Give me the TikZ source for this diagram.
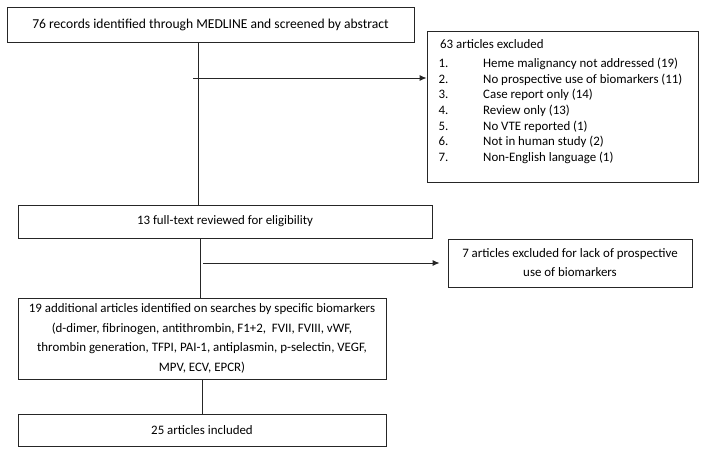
\documentclass[tikz,border=0pt]{standalone}
\usepackage{fontspec}
\setmainfont{Carlito}
\usetikzlibrary{arrows.meta}
\begin{document}
\begin{tikzpicture}[x=1pt,y=-1pt,
  box/.style={draw=black!85,line width=0.9pt,rectangle,inner sep=0pt,align=center,font=\fontsize{12.9}{19.5}\selectfont},
  link/.style={draw=black!85,line width=0.9pt},
  arr/.style={link,-{Latex[length=7pt,width=6pt]}}]
\fill[white] (0,0) rectangle (704,453);
\useasboundingbox (0,0) rectangle (704,453);
\node[box,minimum width=407pt,minimum height=35pt,font=\fontsize{13.6}{16}\selectfont] (b1) at (210.5,24.5) {76 records identified through MEDLINE and screened by abstract};
\node[box,minimum width=271pt,minimum height=151pt] (b2) at (562.5,106.5) {};
\node[anchor=north west,inner sep=0pt,align=left,font=\fontsize{12.9}{15.6}\selectfont] (b2t) at (438.5,37.5) {%
\begin{tabular}{@{}p{44.5pt}@{}l@{}}
\multicolumn{2}{@{\hspace{1.5pt}}l@{}}{63 articles excluded}\\[3.4pt]
1. & Heme malignancy not addressed (19)\\
2. & No prospective use of biomarkers (11)\\
3. & Case report only (14)\\
4. & Review only (13)\\
5. & No VTE reported (1)\\
6. & Not in human study (2)\\
7. & Non-English language (1)
\end{tabular}};
\node[box,minimum width=414pt,minimum height=33pt] (b3) at (225,221.5) {13 full-text reviewed for eligibility};
\node[box,minimum width=244pt,minimum height=48pt,font=\fontsize{12.9}{19}\selectfont] (b4) at (570,263) {7 articles excluded for lack of prospective\\use of biomarkers};
\node[box,minimum width=368pt,minimum height=81pt] (b5) at (202,338.5) {19 additional articles identified on searches by specific biomarkers\\(d-dimer, fibrinogen, antithrombin, F1+2,\ \ FVII, FVIII, vWF,\\thrombin generation, TFPI, PAI-1, antiplasmin, p-selectin, VEGF,\\MPV, ECV, EPCR)};
\node[box,minimum width=368pt,minimum height=32pt] (b6) at (202,430) {25 articles included};
\coordinate (a1) at (193,78);
\coordinate (a2) at (203,263);
\draw[link] (b1.south -| 198,0) -- (b3.north -| 198,0);
\draw[arr] (a1) -- (a1 -| b2.west);
\draw[link] (b3.south -| 200,0) -- (b5.north -| 200,0);
\draw[arr] (a2) -- ([xshift=-8pt]a2 -| b4.west);
\draw[link] (b5.south) -- (b6.north);
\end{tikzpicture}
\end{document}
